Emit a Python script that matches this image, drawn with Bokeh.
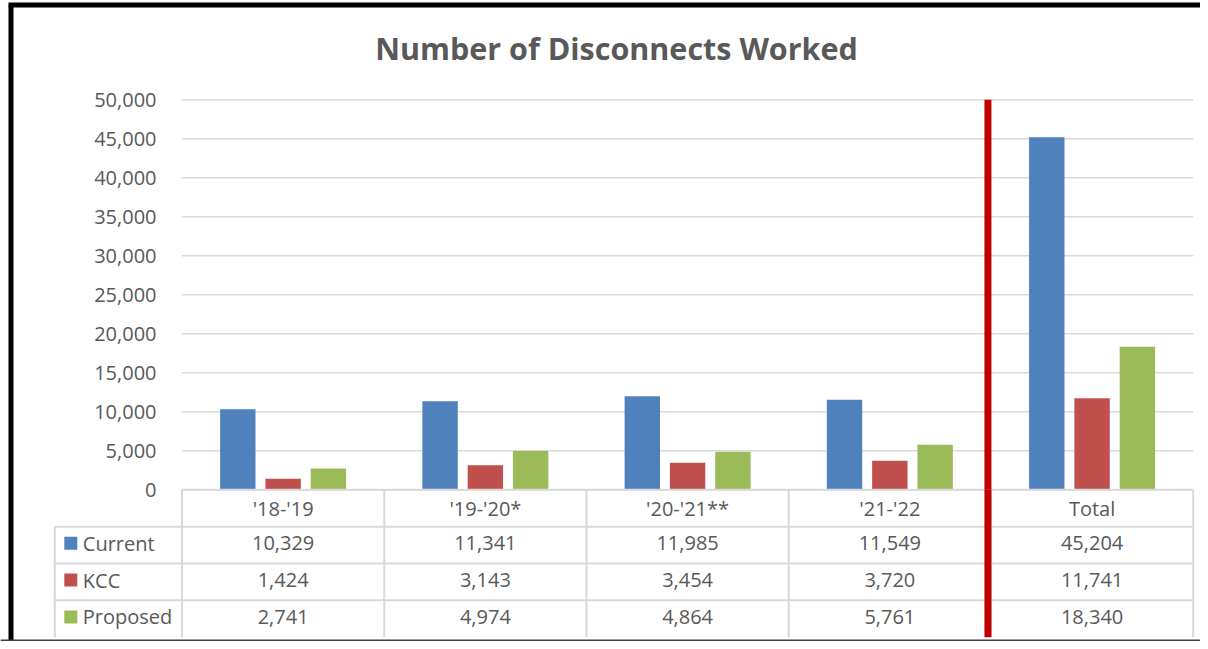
from bokeh.plotting import figure
from bokeh.models import Range1d
from bokeh.core.properties import value
from bokeh.embed import file_html
from bokeh.resources import INLINE

# ---------------- data ----------------
categories = ["'18-'19", "'19-'20*", "'20-'21**", "'21-'22", "Total"]
series_names = ["Current", "KCC", "Proposed"]
current = [10329, 11341, 11985, 11549, 45204]
kcc = [1424, 3143, 3454, 3720, 11741]
proposed = [2741, 4974, 4864, 5761, 18340]
y_ticks = [0, 5000, 10000, 15000, 20000, 25000, 30000, 35000, 40000, 45000, 50000]
colors = ["#4F81BD", "#C0504D", "#9BBB59"]
title = "Number of Disconnects Worked"

series_values = [current, kcc, proposed]

# ---------------- layout (figure pixels) ----------------
W, H = 1200, 641
PLOT_L, PLOT_R = 181.5, 1192.7
Y0_PX, YTOP_PX = 489.3, 99.3
ROW_H = 36.85
FONT = value("Open Sans")
TXT = "#595959"
LINE = "#D9D9D9"

ncat = len(categories)
cat_px = (PLOT_R - PLOT_L) / ncat
x_start = -PLOT_L / cat_px
x_end = ncat + (W - PLOT_R) / cat_px
val_px = (Y0_PX - YTOP_PX) / max(y_ticks)
y_start = -(H - Y0_PX) / val_px
y_end = Y0_PX / val_px


def fx(px):
    return x_start + px / cat_px


def ft(py):
    return (py - Y0_PX) / ROW_H


def fy(py):
    return y_end - py / val_px


p = figure(width=W, height=H,
           x_range=Range1d(x_start, x_end), y_range=Range1d(y_start, y_end),
           output_backend="svg", toolbar_location=None,
           x_axis_type=None, y_axis_type=None, min_border=0,
           outline_line_color=None, background_fill_color="white",
           border_fill_color="white")
p.extra_y_ranges = {"table": Range1d(start=(H - Y0_PX) / ROW_H, end=-Y0_PX / ROW_H)}

# gridlines
n = len(y_ticks)
p.segment(x0=[0] * n, x1=[ncat] * n, y0=y_ticks, y1=y_ticks,
          line_color=LINE, line_width=1.5)

# y tick labels
p.text(x=[fx(156)] * n, y=y_ticks, text=[f"{t:,}" for t in y_ticks],
       text_align="right", text_baseline="middle", text_font=FONT,
       text_font_size="20px", text_color=TXT)

# bars
spacing, bw = 0.224, 0.175
for s, (vals, col) in enumerate(zip(series_values, colors)):
    off = (s - 1) * spacing
    p.vbar(x=[i + 0.5 + off for i in range(ncat)], top=vals, bottom=0,
           width=bw, fill_color=col, line_color=None)

# data table grid
xl = fx(54.3)
nrows = len(series_names) + 1
p.segment(x0=[0], x1=[ncat], y0=[0], y1=[0], y_range_name="table",
          line_color=LINE, line_width=2)
p.segment(x0=[xl] * (nrows - 1), x1=[ncat] * (nrows - 1),
          y0=list(range(1, nrows)), y1=list(range(1, nrows)),
          y_range_name="table", line_color=LINE, line_width=2)
p.segment(x0=list(range(ncat + 1)), x1=list(range(ncat + 1)),
          y0=[0] * (ncat + 1), y1=[nrows] * (ncat + 1),
          y_range_name="table", line_color=LINE, line_width=2)
p.segment(x0=[xl], x1=[xl], y0=[1], y1=[nrows], y_range_name="table",
          line_color=LINE, line_width=2)

# header labels
p.text(x=[i + 0.5 for i in range(ncat)], y=[0.5] * ncat, text=categories,
       y_range_name="table", text_align="center", text_baseline="middle",
       text_font=FONT, text_font_size="20px", text_color=TXT)

# values
for r, vals in enumerate(series_values):
    p.text(x=[i + 0.5 for i in range(ncat)], y=[r + 1.45] * ncat,
           text=[f"{v:,}" for v in vals], y_range_name="table",
           text_align="center", text_baseline="middle", text_font=FONT,
           text_font_size="20px", text_color=TXT)

# legend keys in table
rows_y = [r + 1.45 for r in range(len(series_names))]
p.scatter(x=[fx(70.3)] * len(series_names), y=rows_y, marker="square",
          size=13, fill_color=colors, line_color=None, y_range_name="table")
p.text(x=[fx(82.3)] * len(series_names), y=rows_y, text=series_names,
       y_range_name="table", text_align="left", text_baseline="middle",
       text_font=FONT, text_font_size="20px", text_color=TXT)

# red divider between periods and total
xd = ncat - 1 - 0.015
p.segment(x0=[xd], x1=[xd], y0=[0], y1=[max(y_ticks)], line_color="#C00000",
          line_width=7, line_cap="butt")
p.segment(x0=[xd], x1=[xd], y0=[0], y1=[nrows], y_range_name="table",
          line_color="#C00000", line_width=7, line_cap="butt")

# title
p.text(x=[fx(616)], y=[ft(47)], text=[title], y_range_name="table",
       text_align="center", text_baseline="middle", text_font=FONT,
       text_font_size="30.5px", text_font_style="bold", text_color=TXT)

# frame border
p.segment(x0=[fx(10.5)], x1=[fx(10.5)], y0=[y_start], y1=[fy(4.5)],
          line_color="black", line_width=5)
p.segment(x0=[fx(8)], x1=[x_end], y0=[fy(4.5)], y1=[fy(4.5)],
          line_color="black", line_width=5)
p.segment(x0=[x_start], x1=[x_end], y0=[fy(640)], y1=[fy(640)],
          line_color="#3F3F3F", line_width=2)

open("out.html", "w").write(file_html(p, INLINE))
